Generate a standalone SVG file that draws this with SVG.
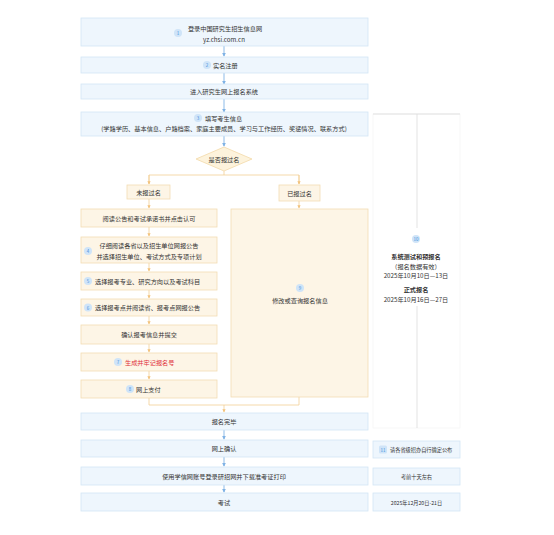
<svg xmlns="http://www.w3.org/2000/svg" width="554" height="535" viewBox="0 0 554 535">
<style>
text{font-family:"Noto Sans CJK SC","Liberation Sans",sans-serif;font-size:6.2px;fill:#333;text-anchor:middle;dominant-baseline:central}
.b{fill:#eef6fd;stroke:#d3e5f4;stroke-width:0.8}
.o{fill:#fdf5e6;stroke:#f2dcb3;stroke-width:0.8}
.bd{fill:#cfe4f8}
.bt{fill:#3f8fdc;font-size:4.5px}
.lb{stroke:#8dbbe8;stroke-width:1;fill:none}
.lo{stroke:#f2cf95;stroke-width:0.8;fill:none}
.lg{stroke:#dcdcdc;stroke-width:0.8;fill:none}
.st{text-anchor:start}
.red{fill:#e0303a}
.bold{font-weight:bold}
.sm{font-size:5.2px}
</style>
<defs>
<marker id="ab" viewBox="0 0 6 6" refX="5" refY="3" markerWidth="4" markerHeight="4" orient="auto"><path d="M0,0L6,3L0,6z" fill="#7fb2e5"/></marker>
<marker id="ao" viewBox="0 0 6 6" refX="5" refY="3" markerWidth="4" markerHeight="4" orient="auto"><path d="M0,0L6,3L0,6z" fill="#f2c27a"/></marker>
</defs>
<rect width="554" height="535" fill="#fff"/>

<g id="connectors">
<line class="lb" x1="224" y1="46" x2="224" y2="56" marker-end="url(#ab)"/>
<line class="lb" x1="224" y1="73" x2="224" y2="84" marker-end="url(#ab)"/>
<line class="lb" x1="224" y1="99" x2="224" y2="112" marker-end="url(#ab)"/>
<line class="lb" x1="224" y1="136" x2="224" y2="146" marker-end="url(#ab)"/>
<polyline class="lo" points="224,171 224,175"/>
<polyline class="lo" points="149,184 149,175 299,175 299,184"/>
<line class="lo" x1="149" y1="175" x2="149" y2="184" marker-end="url(#ao)"/>
<line class="lo" x1="299" y1="175" x2="299" y2="184" marker-end="url(#ao)"/>
<line class="lo" x1="149" y1="199" x2="149" y2="208" marker-end="url(#ao)"/>
<line class="lo" x1="299" y1="201" x2="299" y2="208" marker-end="url(#ao)"/>
<line class="lo" x1="149" y1="227" x2="149" y2="236" marker-end="url(#ao)"/>
<line class="lo" x1="149" y1="263" x2="149" y2="271" marker-end="url(#ao)"/>
<line class="lo" x1="149" y1="290" x2="149" y2="298" marker-end="url(#ao)"/>
<line class="lo" x1="149" y1="316" x2="149" y2="324" marker-end="url(#ao)"/>
<line class="lo" x1="149" y1="344" x2="149" y2="352" marker-end="url(#ao)"/>
<line class="lo" x1="149" y1="371" x2="149" y2="379" marker-end="url(#ao)"/>
<polyline class="lo" points="149,398 149,405 299,405 299,397"/>
<line class="lo" x1="224" y1="405" x2="224" y2="412" marker-end="url(#ao)"/>
<line class="lb" x1="224" y1="430" x2="224" y2="439" marker-end="url(#ab)"/>
<line class="lb" x1="224" y1="457" x2="224" y2="466" marker-end="url(#ab)"/>
<line class="lb" x1="224" y1="485" x2="224" y2="492" marker-end="url(#ab)"/>
<rect x="373" y="114" width="87" height="314" fill="none" stroke="#f6f6f6" stroke-width="0.8"/>
<line class="lg" x1="373" y1="114" x2="460" y2="114"/>
<line class="lg" x1="417" y1="114" x2="417" y2="228"/>
<line class="lg" x1="417" y1="306" x2="417" y2="428"/>
</g>

<g id="n1"><rect class="b" x="81" y="18" width="287" height="28"/>
<circle class="bd" cx="178" cy="33" r="4"/><text class="bt" x="178" y="33">1</text>
<text x="225" y="28">登录中国研究生招生信息网</text><text x="224" y="39">yz.chsi.com.cn</text></g>

<g id="n2"><rect class="b" x="81" y="57" width="287" height="16"/>
<circle class="bd" cx="207" cy="65" r="4"/><text class="bt" x="207" y="65">2</text>
<text class="st" x="213" y="65">实名注册</text></g>

<g id="n3"><rect class="b" x="81" y="84" width="287" height="15"/>
<text x="224" y="91.5">进入研究生网上报名系统</text></g>

<g id="n4"><rect class="b" x="81" y="112" width="287" height="24"/>
<circle class="bd" cx="198" cy="118" r="4"/><text class="bt" x="198" y="118">3</text>
<text class="st" x="205" y="118">填写考生信息</text>
<text x="224" y="128">(学籍学历、基本信息、户籍档案、家庭主要成员、学习与工作经历、奖惩情况、联系方式)</text></g>

<g id="decision"><path d="M224,147L252,159L224,171L196,159Z" fill="#fdf3dc" stroke="#f2d9a8" stroke-width="0.8"/>
<text x="224" y="159">是否报过名</text></g>

<g id="no"><rect class="o" x="127" y="185" width="43" height="14"/><text x="148.5" y="192">未报过名</text></g>
<g id="yes"><rect class="o" x="279" y="185" width="41" height="16"/><text x="299.5" y="193">已报过名</text></g>

<g id="s1"><rect class="o" x="81" y="209" width="136" height="18"/><text x="149" y="218">阅读公告和考试承诺书并点击认可</text></g>
<g id="s4"><rect class="o" x="81" y="237" width="136" height="26"/>
<circle class="bd" cx="88" cy="251" r="4"/><text class="bt" x="88" y="251">4</text>
<text x="149" y="245">仔细阅读各省以及招生单位网报公告</text><text x="149" y="256">并选择招生单位、考试方式及专项计划</text></g>
<g id="s5"><rect class="o" x="81" y="272" width="136" height="18"/>
<circle class="bd" cx="88" cy="281" r="4"/><text class="bt" x="88" y="281">5</text>
<text class="st" x="95" y="281">选择报考专业、研究方向以及考试科目</text></g>
<g id="s6"><rect class="o" x="81" y="299" width="136" height="17"/>
<circle class="bd" cx="88" cy="307.5" r="4"/><text class="bt" x="88" y="307.5">6</text>
<text class="st" x="95" y="307.5">选择报考点并阅读省、报考点网报公告</text></g>
<g id="s-confirm"><rect class="o" x="81" y="325" width="136" height="19"/><text x="149" y="334.5">确认报考信息并提交</text></g>
<g id="s7"><rect class="o" x="81" y="353" width="136" height="18"/>
<circle class="bd" cx="118" cy="362" r="4"/><text class="bt" x="118" y="362">7</text>
<text class="st red" x="125" y="362">生成并牢记报名号</text></g>
<g id="s8"><rect class="o" x="81" y="380" width="136" height="18"/>
<circle class="bd" cx="130" cy="389" r="4"/><text class="bt" x="130" y="389">8</text>
<text class="st" x="136" y="389">网上支付</text></g>

<g id="s9"><rect class="o" x="231" y="209" width="137" height="188"/>
<circle class="bd" cx="300" cy="288" r="4"/><text class="bt" x="300" y="288">9</text>
<text x="300" y="300">修改或查询报名信息</text></g>

<g id="n10">
<circle class="bd" cx="416" cy="239" r="4"/><text class="bt" x="416" y="239">10</text>
<text class="bold" x="416" y="256">系统测试和预报名</text>
<text x="416" y="266">（报名数据有效）</text>
<text x="416" y="275">2025年10月10日—13日</text>
<text class="bold" x="416" y="289">正式报名</text>
<text x="416" y="299">2025年10月16日—27日</text></g>

<g id="done"><rect class="b" x="81" y="413" width="287" height="17"/><text x="224" y="421.5">报名完毕</text></g>
<g id="confirm"><rect class="b" x="81" y="440" width="287" height="17"/><text x="224" y="448.5">网上确认</text></g>
<g id="print"><rect class="b" x="81" y="467" width="287" height="18"/><text x="224" y="476">使用学信网账号登录研招网并下载准考证打印</text></g>
<g id="exam"><rect class="b" x="81" y="493" width="287" height="18"/><text x="224" y="502">考试</text></g>

<g id="r11"><rect class="b" x="373" y="441" width="87" height="17"/>
<rect x="379" y="445.5" width="8" height="8" rx="1.5" fill="#cfe4f8"/><text class="bt" x="383" y="449.5">11</text>
<text class="st sm" x="390" y="449.5">请各省级招办自行确定公布</text></g>
<g id="r12"><rect class="b" x="373" y="468" width="87" height="17"/><text class="sm" x="416.5" y="476.5">考前十天左右</text></g>
<g id="r13"><rect class="b" x="373" y="493" width="87" height="18"/><text class="sm" x="416.5" y="502">2025年12月20日-21日</text></g>
</svg>
